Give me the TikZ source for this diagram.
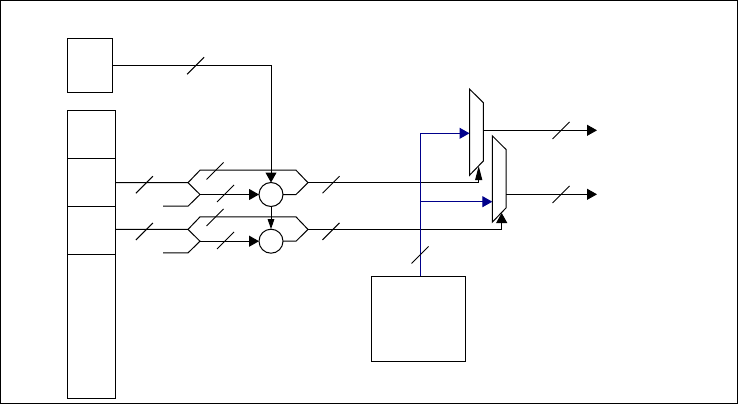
\documentclass[tikz,border=0pt]{standalone}
\usepackage{xcolor}
\usetikzlibrary{arrows.meta}
\definecolor{ctrlblue}{RGB}{0,0,139}
\tikzset{
    block/.style = {draw, rectangle, fill=white, line width=1pt, inner sep=0pt, outer sep=0pt},
    adder/.style = {draw, circle, fill=white, line width=1pt, inner sep=0pt, outer sep=0pt, minimum size=24pt},
    muxbody/.style = {rectangle, inner sep=0pt, outer sep=0pt, minimum width=13.8pt, minimum height=86.3pt},
    wire/.style = {line width=1pt},
    ctrl/.style = {wire, color=ctrlblue},
    bigtip/.style = {-{Triangle[length=10pt,width=11pt]}},
    thintip/.style = {-{Triangle[length=10pt,width=6.5pt]}},
    longtip/.style = {-{Triangle[length=14pt,width=7pt]}},
}

\begin{document}
\begin{tikzpicture}[x=1pt,y=-1pt]
\useasboundingbox (0,0) rectangle (738,404);
\draw[wire] (0.5,0.5) rectangle (737.5,403.5);

% registers on the left
\node[block, minimum width=45pt, minimum height=54pt] (tag) at (90,65.5) {};
\node[block, minimum width=48pt, minimum height=47.5pt] (rowa) at (91.5,134.25) {};
\node[block, minimum width=48pt, minimum height=48pt] (rowb) at (91.5,182) {};
\node[block, minimum width=48pt, minimum height=48pt] (rowc) at (91.5,230) {};
\node[block, minimum width=48pt, minimum height=144pt] (rowd) at (91.5,326) {};
\node[block, minimum width=94pt, minimum height=85pt] (ctrlbox) at (418.5,318.5) {};

% both adder stages
\foreach \n/\y in {b/182.7,c/229.4}{
    \node[adder] (add\n) at (271,\y+11.8) {};
    \coordinate (in\n) at (188,\y);
    \coordinate (out\n) at (308,\y);
    \coordinate (low\n) at (163,\y+23.5);
    \draw[wire] (row\n.east |- in\n) -- (in\n) -- (200,\y-12.5) -- (296,\y-12.5) -- (out\n);
    \draw[wire] (low\n) -- (188,\y+23.5) -- (200,\y+11.8) -- (in\n);
    \draw[wire, bigtip] (200,\y+11.8) -- (add\n.west);
    \draw[wire] (add\n.east) -- (296,\y+11.8) -- (out\n);
}
\draw[wire, bigtip] (tag.east) -| (addb.north);
\draw[wire, thintip] (addb.south) -- (addc.north);

% output muxes
\node[muxbody] (muxa) at (476.4,132.15) {};
\node[muxbody] (muxb) at (499.2,179) {};
\foreach \m in {muxa,muxb}
    \draw[wire, fill=white] (\m.north west) -- ([yshift=-13.7pt]\m.north east)
        -- ([yshift=14.3pt]\m.south east) -- (\m.south west) -- cycle;
\coordinate (muxaout) at (597,130.3);
\coordinate (muxbout) at (597,194.3);
\coordinate (muxasel) at (478.7,166);
\coordinate (muxbsel) at (501.7,213);
\draw[wire, longtip] (outb) -| (muxasel);
\draw[wire, -{Triangle[length=10pt,width=11pt]}] (outc) -| (muxbsel);
\draw[wire, bigtip] (muxa.east |- muxaout) -- (muxaout);
\draw[wire, bigtip] (muxb.east |- muxbout) -- (muxbout);

% control lines
\coordinate (ctrltop) at (420.5,276);
\coordinate (ctrlturn) at (420.5,133.3);
\coordinate (ctrlfork) at (420.5,201.7);
\draw[ctrl, {Triangle[length=10pt,width=11pt]}-] (muxa.west |- ctrlturn) -- (ctrlturn) -- (ctrltop);
\draw[ctrl, bigtip] (ctrlfork) -- (muxb.west |- ctrlfork);

% bus width marks
\foreach \x/\y in {195.6/65.7,144.4/184.7,215/171,225.5/193.5,331/184.7,
                   144.4/231.4,215/217.5,225.5/240.5,331/231.4,
                   420/255,561/130.5,561/194.5}
    \draw[wire] (\x-8.5,\y+8.5) -- (\x+8.5,\y-8.5);
\end{tikzpicture}
\end{document}
